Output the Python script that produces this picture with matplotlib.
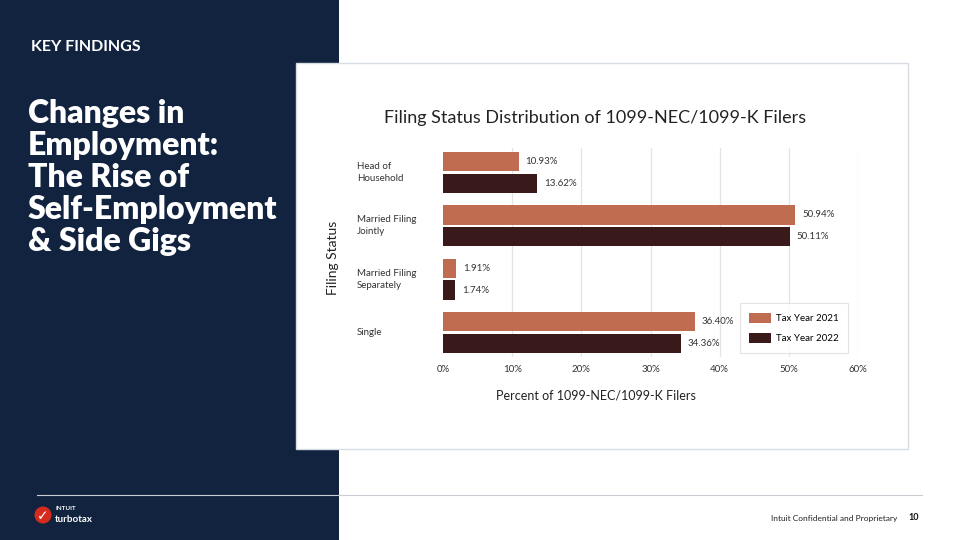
import matplotlib
matplotlib.use("Agg")
import matplotlib.pyplot as plt
from matplotlib.patches import Rectangle, Ellipse
from matplotlib.transforms import blended_transform_factory

plt.rcParams['font.family'] = ['Lato', 'DejaVu Sans']

categories = ["Head of\nHousehold", "Married Filing\nJointly", "Married Filing\nSeparately", "Single"]
series_names = ["Tax Year 2021", "Tax Year 2022"]
values_2021 = [10.93, 50.94, 1.91, 36.40]
values_2022 = [13.62, 50.11, 1.74, 34.36]
xticks = [0, 10, 20, 30, 40, 50, 60]
xtick_labels = ["0%", "10%", "20%", "30%", "40%", "50%", "60%"]

C2021 = "#c06c50"
C2022 = "#3a191b"
NAVY = "#12233f"

W, H = 959, 540
fig = plt.figure(figsize=(W / 100, H / 100), dpi=100)
fig.patch.set_facecolor("white")

def fx(px):
    return px / W

def fy(py):
    return 1 - py / H

# navy panel
fig.patches.append(Rectangle((0, 0), fx(339), 1, transform=fig.transFigure,
                             facecolor=NAVY, edgecolor="none", zorder=0))
# white card
fig.patches.append(Rectangle((fx(296), fy(449)), fx(908) - fx(296), fy(63) - fy(449),
                             transform=fig.transFigure, facecolor="white",
                             edgecolor="#d8dce3", linewidth=1.0, zorder=1))

# footer line
fig.add_artist(plt.Line2D([fx(37), fx(922)], [fy(495), fy(495)], transform=fig.transFigure,
                          color="#c9ccd2", linewidth=0.8, zorder=2))

# left texts
fig.text(fx(31), fy(47), "KEY FINDINGS", color="white", fontsize=11.5, fontweight="bold",
         ha="left", va="center")
fig.text(fx(28), fy(99), "Changes in\nEmployment:\nThe Rise of\nSelf-Employment\n& Side Gigs",
         color="white", fontsize=23, fontweight="heavy", ha="left", va="top",
         linespacing=1.12)

# logo
fig.patches.append(Ellipse((fx(43), fy(515)), width=17 / W, height=17 / H, transform=fig.transFigure,
                           facecolor="#d52b1e", edgecolor="none", zorder=3))
fig.text(fx(43), fy(516), "\u2713", color="white", fontsize=10, fontweight="bold",
         ha="center", va="center", family=["DejaVu Sans"], zorder=4)
fig.text(fx(55), fy(509), "INTUIT", color="white", fontsize=4.5, fontweight="bold",
         ha="left", va="center")
fig.text(fx(55), fy(520), "turbotax", color="white", fontsize=7, fontweight="bold",
         ha="left", va="center")

# footer right
fig.text(fx(897), fy(518), "Intuit Confidential and Proprietary", color="#222222",
         fontsize=6, ha="right", va="center")
fig.text(fx(919), fy(518), "10", color="#111111", fontsize=6.5, fontweight="bold",
         ha="right", va="center")

# chart axes
ax = fig.add_axes([fx(443), fy(357), fx(858) - fx(443), fy(148) - fy(357)])
ax.set_zorder(5)
ax.patch.set_alpha(0)

n = len(categories)
ypos = [n - 1 - i for i in range(n)]
bh = 0.36
off = 0.205
ax.barh([y + off for y in ypos], values_2021, height=bh, color=C2021, label=series_names[0], zorder=3)
ax.barh([y - off for y in ypos], values_2022, height=bh, color=C2022, label=series_names[1], zorder=3)

for y, v in zip(ypos, values_2021):
    ax.text(v + 1.0, y + off, f"{v:.2f}%", fontsize=7, color="#333333", va="center", ha="left")
for y, v in zip(ypos, values_2022):
    ax.text(v + 1.0, y - off, f"{v:.2f}%", fontsize=7, color="#333333", va="center", ha="left")

for t in xticks[1:]:
    ax.axvline(t, color="#e4e4e4", linewidth=0.9, zorder=1)

ax.set_xlim(0, 60)
ax.set_ylim(-0.46, n - 1 + 0.46)
ax.set_xticks(xticks)
ax.set_xticklabels(xtick_labels, fontsize=7, color="#333333")
ax.tick_params(axis="x", length=0, pad=6)
ax.set_yticks([])
for s in ax.spines.values():
    s.set_visible(False)

tr = blended_transform_factory(fig.transFigure, ax.transData)
for y, c in zip(ypos, categories):
    ax.text(fx(357), y, c, transform=tr, fontsize=7, color="#333333", ha="left",
            va="center", linespacing=1.45)

leg = ax.legend(loc="lower right", bbox_to_anchor=(fx(848), fy(353)),
                bbox_transform=fig.transFigure, fontsize=7, frameon=True,
                fancybox=False, edgecolor="#dddddd", handlelength=2.2, handleheight=1.2,
                labelspacing=1.0, borderpad=1.0, handletextpad=0.5, borderaxespad=0)
leg.get_frame().set_linewidth(0.8)

fig.text(fx(595), fy(118), "Filing Status Distribution of 1099-NEC/1099-K Filers",
         fontsize=13, color="#222222", ha="center", va="center", zorder=6)
fig.text(fx(596), fy(396), "Percent of 1099-NEC/1099-K Filers",
         fontsize=9, color="#222222", ha="center", va="center", zorder=6)
fig.text(fx(333), fy(258), "Filing Status", rotation=90, fontsize=10, color="#222222",
         ha="center", va="center", zorder=6)

fig.savefig("out.png", dpi=100)
